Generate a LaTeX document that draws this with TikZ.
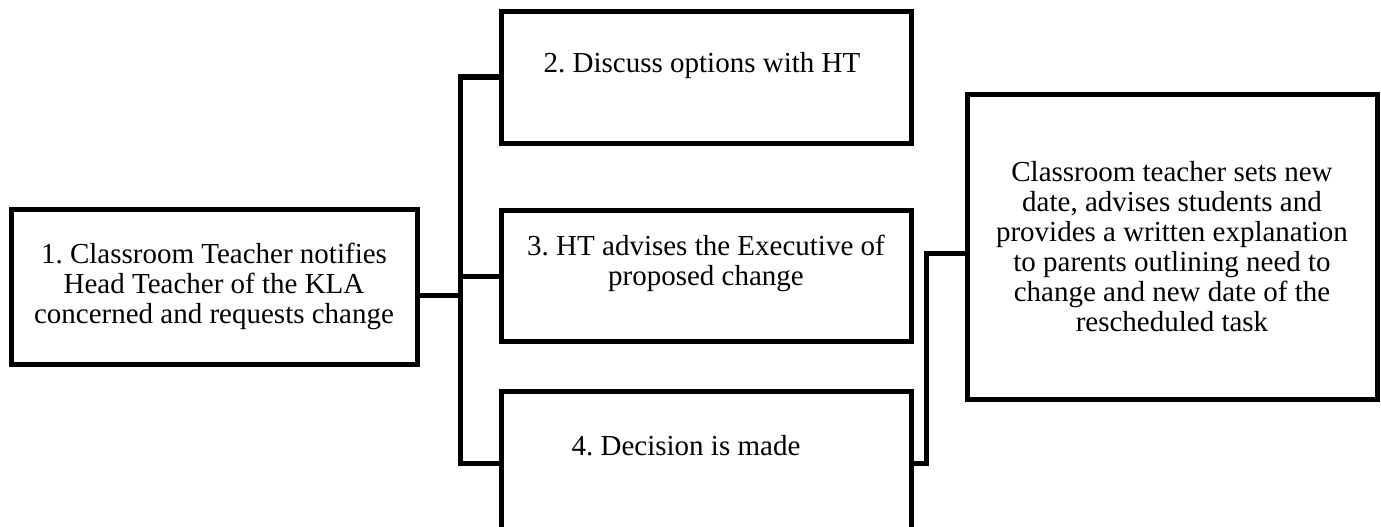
\documentclass[tikz,border=0pt]{standalone}
\usepackage{fontspec}
\setmainfont{Liberation Serif}
\frenchspacing
\tikzset{
  boxnode/.style={draw=black, line width=5pt, rectangle, inner sep=0pt, outer sep=0pt, fill=white},
  lbl/.style={align=center, inner sep=0pt, font=\fontsize{29}{30}\selectfont},
  conn/.style={draw=black, line width=5pt, line join=miter}
}
\begin{document}
\begin{tikzpicture}[x=1pt, y=-1pt]
\clip (0,0) rectangle (1381,527);
\fill[white] (0,0) rectangle (1381,527);
% boxes
\node[boxnode, minimum width=406pt, minimum height=155pt] (box1) at (214,286.5) {};
\node[boxnode, minimum width=410pt, minimum height=131pt] (box2) at (706,77.5) {};
\node[boxnode, minimum width=410pt, minimum height=131pt] (box3) at (706,275.5) {};
\node[boxnode, minimum width=410pt, minimum height=169pt] (box4) at (706,475.5) {};
\node[boxnode, minimum width=410pt, minimum height=305pt] (box5) at (1172,246.5) {};
% labels
\node[lbl] (t1) at (box1.center) {\frenchspacing 1. Classroom Teacher notifies\\Head Teacher of the KLA\\concerned and requests change};
\node[lbl, anchor=base] (t2) at (702,73) {\frenchspacing 2. Discuss options with HT};
\node[lbl] (t3) at (706,263) {\frenchspacing 3. HT advises the Executive of\\proposed change};
\node[lbl, anchor=base] (t4) at (686,455) {\frenchspacing 4. Decision is made};
\node[lbl] (t5) at (1172,247) {Classroom teacher sets new\\date, advises students and\\provides a written explanation\\to parents outlining need to\\change and new date of the\\rescheduled task};
% connector coordinates
\coordinate (ttop) at (460,77);
\coordinate (tbot) at (460,463);
\coordinate (tmid) at (460,276);
\coordinate (j1) at (460,295);
\coordinate (r1) at (926,463);
\coordinate (r2) at (926,253);
% connectors
\draw[conn] (box2.west |- ttop) -- (ttop) -- (tbot) -- (box4.west |- tbot);
\draw[conn] (tmid) -- (box3.west |- tmid);
\draw[conn] (box1.east |- j1) -- (j1);
\draw[conn] (box4.east |- r1) -- (r1) -- (r2) -- (box5.west |- r2);
\end{tikzpicture}
\end{document}
